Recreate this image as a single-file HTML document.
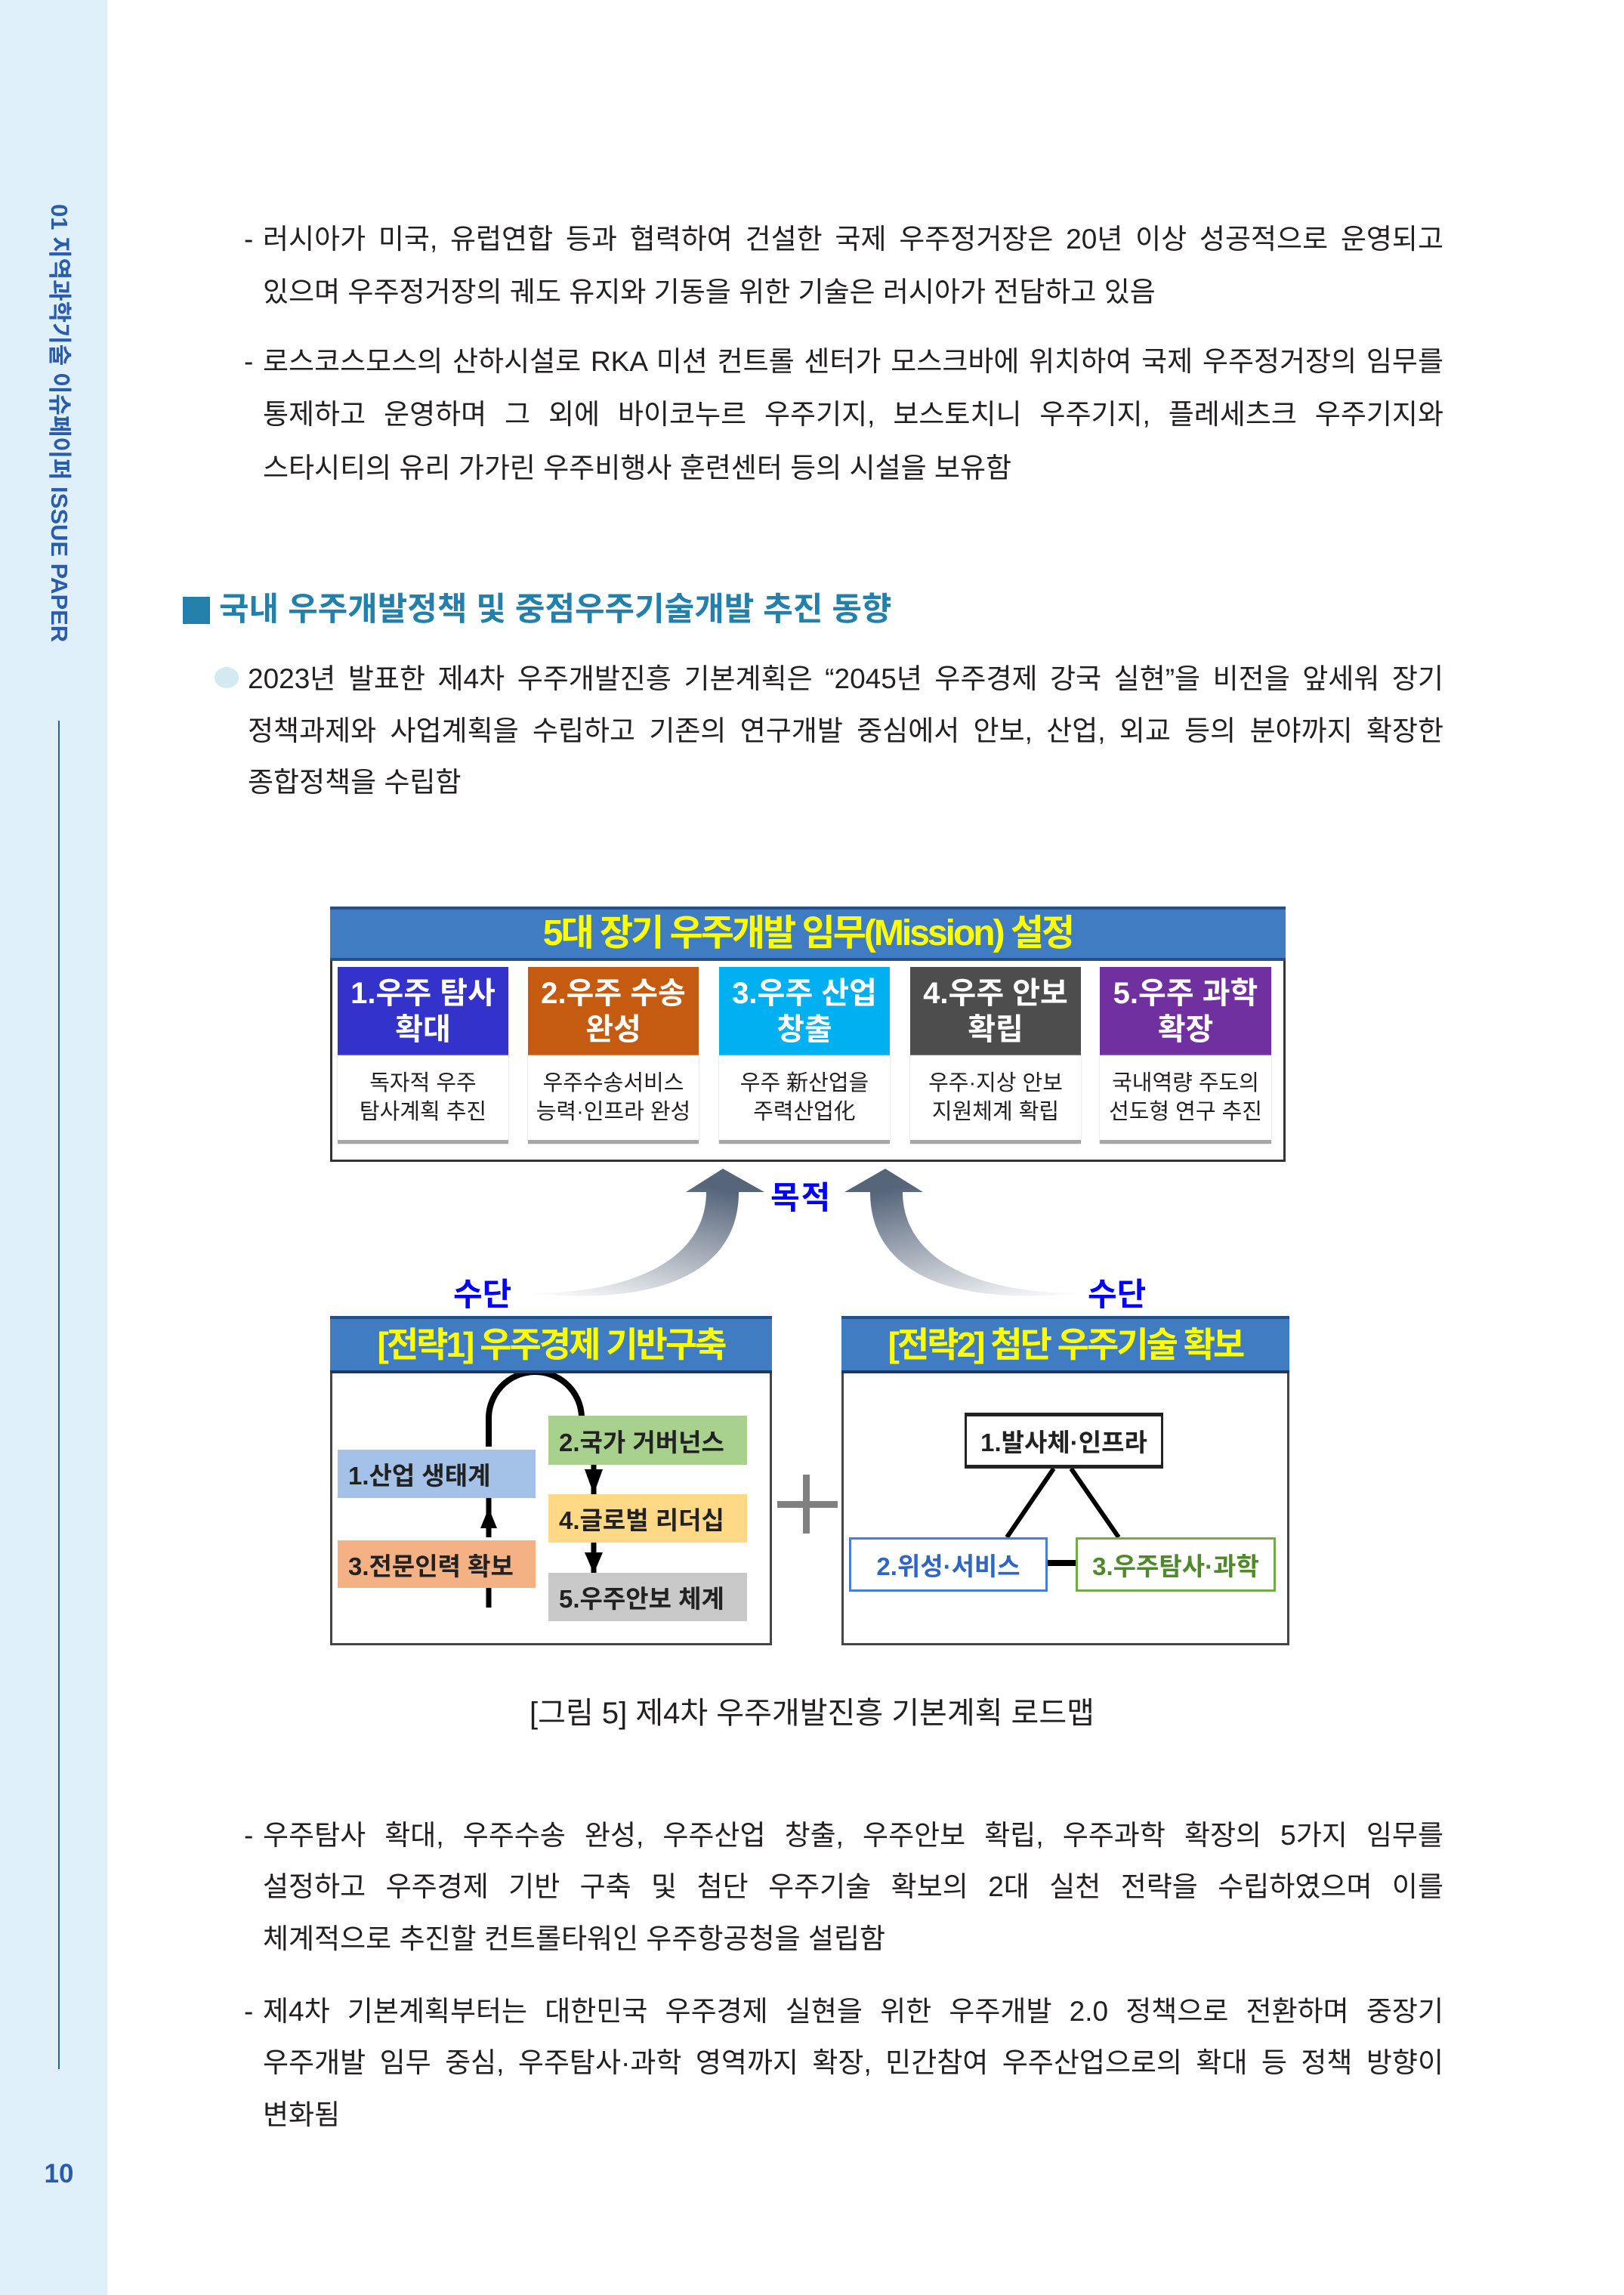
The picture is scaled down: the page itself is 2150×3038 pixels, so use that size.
<!DOCTYPE html>
<html><head><meta charset="utf-8">
<style>
*{margin:0;padding:0;box-sizing:border-box}
body{width:2150px;height:3038px;position:relative;background:#fff;font-family:"Liberation Sans","Noto Sans CJK KR",sans-serif;color:#231f20;overflow:hidden}
.a{position:absolute}
.side{left:0;top:0;width:142px;height:3038px;background:#dff0fa}
.ln{position:absolute;font-size:37px;line-height:44px;height:44px;white-space:nowrap}
.j{text-align:justify;text-align-last:justify;white-space:normal;overflow:hidden}
.b{font-weight:bold}
.hd{color:#fff;font-weight:bold;font-size:40px;line-height:48px;text-align:center;display:flex;align-items:center;justify-content:center;flex-direction:column}
.wd{background:#fff;font-size:29px;line-height:38px;text-align:center;display:flex;align-items:center;justify-content:center;flex-direction:column;border-bottom:5px solid #a6a6a6;box-shadow:0 0 2px #ccc}
.bx{display:flex;align-items:center;padding-left:14px;font-size:33px;font-weight:bold;color:#222}
</style></head><body>
<div class="a side"></div>
<div class="a" style="left:78px;top:500px;width:0;height:0">
 <div style="position:absolute;left:-230px;top:-20px;width:460px;height:40px;transform:rotate(90deg);font-size:31px;font-weight:bold;color:#2a5caa;white-space:nowrap;text-align:center;line-height:40px">01 지역과학기술 이슈페이퍼 ISSUE PAPER</div>
</div>
<div class="a" style="left:77px;top:954px;width:2px;height:1785px;background:#2a5caa"></div>
<div class="a" style="left:40px;top:2858px;width:76px;text-align:center;font-size:35px;font-weight:bold;color:#2a5caa">10</div>

<div class="ln" style="left:323px;top:295px">-</div>
<div class="ln j" style="left:348px;top:295px;width:1563px">러시아가 미국, 유럽연합 등과 협력하여 건설한 국제 우주정거장은 20년 이상 성공적으로 운영되고</div>
<div class="ln" style="left:348px;top:365px">있으며 우주정거장의 궤도 유지와 기동을 위한 기술은 러시아가 전담하고 있음</div>
<div class="ln" style="left:323px;top:457px">-</div>
<div class="ln j" style="left:348px;top:457px;width:1563px">로스코스모스의 산하시설로 RKA 미션 컨트롤 센터가 모스크바에 위치하여 국제 우주정거장의 임무를</div>
<div class="ln j" style="left:348px;top:527px;width:1563px">통제하고 운영하며 그 외에 바이코누르 우주기지, 보스토치니 우주기지, 플레세츠크 우주기지와</div>
<div class="ln" style="left:348px;top:598px">스타시티의 유리 가가린 우주비행사 훈련센터 등의 시설을 보유함</div>

<div class="a" style="left:242px;top:790px;width:36px;height:36px;background:#2380aa"></div>
<div class="a b" style="left:290px;top:780px;font-size:43px;line-height:54px;color:#2380aa;white-space:nowrap">국내 우주개발정책 및 중점우주기술개발 추진 동향</div>
<div class="a" style="left:284px;top:883px;width:32px;height:28px;border-radius:50%;background:#d2eaf0"></div>
<div class="ln j" style="left:328px;top:877px;width:1583px">2023년 발표한 제4차 우주개발진흥 기본계획은 “2045년 우주경제 강국 실현”을 비전을 앞세워 장기</div>
<div class="ln j" style="left:328px;top:946px;width:1583px">정책과제와 사업계획을 수립하고 기존의 연구개발 중심에서 안보, 산업, 외교 등의 분야까지 확장한</div>
<div class="ln" style="left:328px;top:1014px">종합정책을 수립함</div>

<!-- mission box -->
<div class="a" style="left:437px;top:1203px;width:1265px;height:335px;border:3px solid #333;border-top:none;background:#fff"></div>
<div class="a" style="left:437px;top:1200px;width:1265px;height:72px;background:#3f7cc1;border-top:4px solid #24508a;border-bottom:4px solid #24508a;color:#ffff00;font-weight:bold;font-size:48px;line-height:64px;text-align:center;letter-spacing:-3px">5대 장기 우주개발 임무(Mission) 설정</div>
<div class="a hd" style="left:447px;top:1280px;width:226px;height:117px;background:#3333cc">1.우주 탐사<br>확대</div>
<div class="a hd" style="left:699px;top:1280px;width:226px;height:117px;background:#c55a11">2.우주 수송<br>완성</div>
<div class="a hd" style="left:952px;top:1280px;width:226px;height:117px;background:#00b0f0">3.우주 산업<br>창출</div>
<div class="a hd" style="left:1205px;top:1280px;width:226px;height:117px;background:#4d4d4d">4.우주 안보<br>확립</div>
<div class="a hd" style="left:1456px;top:1280px;width:227px;height:117px;background:#7030a0">5.우주 과학<br>확장</div>
<div class="a wd" style="left:447px;top:1397px;width:226px;height:117px">독자적 우주<br>탐사계획 추진</div>
<div class="a wd" style="left:699px;top:1397px;width:226px;height:117px">우주수송서비스<br>능력·인프라 완성</div>
<div class="a wd" style="left:952px;top:1397px;width:226px;height:117px">우주 新산업을<br>주력산업化</div>
<div class="a wd" style="left:1205px;top:1397px;width:226px;height:117px">우주·지상 안보<br>지원체계 확립</div>
<div class="a wd" style="left:1456px;top:1397px;width:227px;height:117px">국내역량 주도의<br>선도형 연구 추진</div>

<!-- arrows -->
<svg class="a" style="left:0;top:0" width="2150" height="3038">
<defs>
<linearGradient id="g1" x1="0" y1="1" x2="0.4" y2="0"><stop offset="0" stop-color="#fff"/><stop offset="1" stop-color="#56657a"/></linearGradient>
<linearGradient id="g2" x1="1" y1="1" x2="0.6" y2="0"><stop offset="0" stop-color="#fff"/><stop offset="1" stop-color="#56657a"/></linearGradient>
</defs>
<path d="M700,1712 C850,1712 935,1660 935,1578 L908,1578 L957,1547 L1012,1578 L978,1578 C978,1680 880,1730 700,1712 Z" fill="url(#g1)"/>
<path d="M1430,1712 C1280,1712 1195,1660 1195,1578 L1222,1578 L1172,1547 L1118,1578 L1152,1578 C1152,1680 1250,1730 1430,1712 Z" fill="url(#g2)"/>
<path d="M647,1915 L647,1880 A60,60 0 0 1 770,1875" fill="none" stroke="#000" stroke-width="8"/>
<line x1="647" y1="2128" x2="647" y2="2045" stroke="#000" stroke-width="7"/>
<line x1="647" y1="2035" x2="647" y2="1983" stroke="#000" stroke-width="7"/>
<polygon points="647,1996 636,2023 658,2023" fill="#000"/>
<line x1="786" y1="1939" x2="786" y2="1978" stroke="#000" stroke-width="7"/>
<polygon points="774,1945 798,1945 786,1978" fill="#000"/>
<line x1="786" y1="2042" x2="786" y2="2082" stroke="#000" stroke-width="7"/>
<polygon points="774,2055 798,2055 786,2083" fill="#000"/>
<rect x="1063" y="1952" width="9" height="78" fill="#808080"/>
<rect x="1029" y="1987" width="80" height="9" fill="#808080"/>
<line x1="1395" y1="1944" x2="1333" y2="2035" stroke="#000" stroke-width="6"/>
<line x1="1418" y1="1944" x2="1481" y2="2035" stroke="#000" stroke-width="6"/>
<line x1="1387" y1="2069" x2="1424" y2="2069" stroke="#000" stroke-width="8"/>
</svg>
<div class="a b" style="left:1020px;top:1552px;font-size:42px;color:#0000ff;letter-spacing:2px">목적</div>
<div class="a b" style="left:600px;top:1680px;font-size:42px;color:#0000ff">수단</div>
<div class="a b" style="left:1440px;top:1680px;font-size:42px;color:#0000ff">수단</div>

<!-- strategy boxes -->
<div class="a" style="left:437px;top:1744px;width:585px;height:434px;border:3px solid #444;border-top:none;background:transparent"></div>
<div class="a" style="left:437px;top:1742px;width:585px;height:76px;background:#3f7cc1;border-top:4px solid #24508a;border-bottom:4px solid #1a3a66;color:#ffff00;font-weight:bold;font-size:46px;line-height:68px;text-align:center;letter-spacing:-3px">[전략1] 우주경제 기반구축</div>
<div class="a" style="left:1114px;top:1744px;width:593px;height:434px;border:3px solid #444;border-top:none"></div>
<div class="a" style="left:1114px;top:1742px;width:593px;height:76px;background:#3f7cc1;border-top:4px solid #24508a;border-bottom:4px solid #1a3a66;color:#ffff00;font-weight:bold;font-size:46px;line-height:68px;text-align:center;letter-spacing:-3px">[전략2] 첨단 우주기술 확보</div>

<div class="a bx" style="left:447px;top:1919px;width:262px;height:64px;background:#a4c2e8">1.산업 생태계</div>
<div class="a bx" style="left:447px;top:2039px;width:262px;height:63px;background:#f4b183">3.전문인력 확보</div>
<div class="a bx" style="left:726px;top:1874px;width:263px;height:65px;background:#a9d18e">2.국가 거버넌스</div>
<div class="a bx" style="left:726px;top:1978px;width:263px;height:64px;background:#ffd985">4.글로벌 리더십</div>
<div class="a bx" style="left:726px;top:2082px;width:263px;height:64px;background:#c9c9c9">5.우주안보 체계</div>

<div class="a bx" style="left:1277px;top:1870px;width:263px;height:74px;background:#fff;border:3px solid #222;border-top-width:5px;border-bottom-width:5px;justify-content:center;padding:0">1.발사체·인프라</div>
<div class="a bx" style="left:1124px;top:2035px;width:263px;height:72px;background:#fff;border:3px solid #4a7ccf;color:#2f66c4;justify-content:center;padding:0">2.위성·서비스</div>
<div class="a bx" style="left:1424px;top:2035px;width:265px;height:72px;background:#fff;border:3px solid #70ad47;color:#4f8a2a;justify-content:center;padding:0">3.우주탐사·과학</div>

<div class="a" style="left:0;top:2244px;width:2150px;text-align:center;font-size:40px;line-height:48px">[그림 5] 제4차 우주개발진흥 기본계획 로드맵</div>

<div class="ln" style="left:323px;top:2408px">-</div>
<div class="ln j" style="left:348px;top:2408px;width:1563px">우주탐사 확대, 우주수송 완성, 우주산업 창출, 우주안보 확립, 우주과학 확장의 5가지 임무를</div>
<div class="ln j" style="left:348px;top:2476px;width:1563px">설정하고 우주경제 기반 구축 및 첨단 우주기술 확보의 2대 실천 전략을 수립하였으며 이를</div>
<div class="ln" style="left:348px;top:2545px">체계적으로 추진할 컨트롤타워인 우주항공청을 설립함</div>
<div class="ln" style="left:323px;top:2641px">-</div>
<div class="ln j" style="left:348px;top:2641px;width:1563px">제4차 기본계획부터는 대한민국 우주경제 실현을 위한 우주개발 2.0 정책으로 전환하며 중장기</div>
<div class="ln j" style="left:348px;top:2709px;width:1563px">우주개발 임무 중심, 우주탐사·과학 영역까지 확장, 민간참여 우주산업으로의 확대 등 정책 방향이</div>
<div class="ln" style="left:348px;top:2778px">변화됨</div>
</body></html>
